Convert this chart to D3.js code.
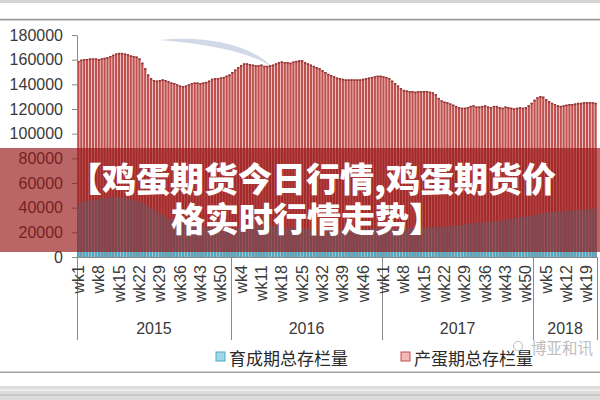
<!DOCTYPE html>
<html><head><meta charset="utf-8">
<script src="https://cdn.jsdelivr.net/npm/d3@7"></script>
<style>
html,body{margin:0;padding:0;background:#fff;}
svg{display:block;}
</style></head>
<body>
<svg id="c" width="600" height="400"></svg>
<script>
// ---------------- data ----------------
const years = [2015, 2016, 2017, 2018];
const weeksPerYear = [53, 52, 52, 22];
const yTicks = [0, 20000, 40000, 60000, 80000, 100000, 120000, 140000, 160000, 180000];
const seriesNames = ["育成期总存栏量", "产蛋期总存栏量"];
const titleLines = ["【鸡蛋期货今日行情,鸡蛋期货价", "格实时行情走势】"];
const watermark = "博亚和讯";

// 产蛋期总存栏量 (red)
const laying = [
  // 2015 (53)
  159000,160000,160500,160500,161000,161000,161000,160500,161000,161500,
  162000,163000,164000,165000,165500,165500,165000,164500,163500,163000,
  162500,161000,157500,153000,148000,145000,143500,143000,143500,144000,
  143500,142500,141500,141000,140000,139000,138500,139000,140000,141000,
  141500,141500,141000,141500,142000,143000,144500,145000,145000,145500,
  146000,147000,148000,
  // 2016 (52)
  150000,152000,154000,155500,157000,157000,156500,156000,155500,155500,
  156000,155000,155000,155500,156000,157000,158000,158500,158000,158000,
  157500,158500,159000,159500,159500,158000,157000,156000,155000,154000,
  153000,151500,150000,148500,147500,146500,145500,145000,144500,144000,
  144000,144000,144000,144000,144000,144500,145000,145500,146000,146500,
  147000,147000,
  // 2017 (52)
  146500,146000,145000,143000,141000,139000,137000,135500,135000,134500,
  134500,134000,134500,134500,134500,134500,134000,133500,132000,129000,
  127000,126000,125500,124500,123500,122500,121500,121000,121000,121500,
  122500,123000,122000,122000,122500,123000,122000,121500,122500,122500,
  121500,121000,122000,121500,121000,120500,121000,121500,121000,121500,
  123000,125000,
  // 2018 (22)
  127500,129500,130500,130000,128000,126500,125000,124000,123000,122500,
  123000,123500,124000,124000,124500,125000,125000,125500,125500,125500,
  125500,125000
];

// 育成期总存栏量 (blue)
const rearing = [
  // 2015
  44000,44500,45000,45500,46000,46000,46500,47000,47500,47500,
  48000,48000,48500,48500,48500,48000,47500,47000,46500,46000,
  45500,45000,44500,43000,41500,40000,38500,37000,35500,34000,
  32500,31000,30000,29000,28000,27500,27000,26500,26000,25500,
  25000,25000,24500,24500,24000,24000,24000,23500,23500,23500,
  23000,23000,23000,
  // 2016
  23000,23000,23500,23500,24000,24000,24500,24500,25000,25000,
  25000,25500,25500,25500,25000,25000,24500,24500,24000,24000,
  24000,23500,23500,23500,23000,23000,23000,22500,22500,22500,
  22000,22000,22000,22000,22000,22000,22000,22500,22500,22500,
  23000,23000,23000,23000,23000,23000,23000,23000,23500,23500,
  23500,23500,
  // 2017
  23500,23500,23500,23500,23500,23500,23500,23500,23500,23500,
  23500,23500,23500,23500,23500,24000,24000,24000,24000,24500,
  24500,24500,25000,25000,25500,25500,26000,26000,26500,27000,
  27500,27500,28000,28000,28000,28500,28500,28500,29000,29000,
  29000,29500,30000,30500,31000,31500,32000,32500,32500,33000,
  33000,33500,
  // 2018
  34000,34500,35000,35500,36000,36000,36500,36500,37000,37000,
  37000,37500,37500,37500,38000,38000,38000,38500,38500,39000,
  39000,39500
];

// categories built from years/weeks
const categories = [];
years.forEach((y, k) => { for (let w = 1; w <= weeksPerYear[k]; w++) categories.push({year: y, week: w}); });

// ---------------- drawing ----------------
const svg = d3.select("#c");
const font = "'Liberation Sans', Arial, sans-serif";
const cjk = "'Noto Sans CJK SC', sans-serif";

// frame
svg.append("rect").attr("x",0).attr("y",0).attr("width",600).attr("height",3).attr("fill","#d4d4d4");
svg.append("rect").attr("x",0).attr("y",18).attr("width",600).attr("height",1).attr("fill","#e2e2e2");
svg.append("rect").attr("x",0).attr("y",19).attr("width",600).attr("height",1.5).attr("fill","#9a9a9a");
svg.append("rect").attr("x",0).attr("y",371.5).attr("width",600).attr("height",1.5).attr("fill","#a0a0a0");
svg.append("rect").attr("x",0).attr("y",386).attr("width",600).attr("height",14).attr("fill","#dcdcdc");
svg.append("rect").attr("x",0).attr("y",389).attr("width",600).attr("height",2).attr("fill","#ececec");
svg.append("rect").attr("x",0).attr("y",394).attr("width",600).attr("height",2).attr("fill","#c8c8c8");

const x = d3.scaleBand().domain(d3.range(categories.length)).range([77, 597]).paddingInner(0.22).paddingOuter(0.1);
const y = d3.scaleLinear().domain([0, 180000]).range([257, 35]);

// faint swoosh watermark at top
svg.append("path")
  .attr("d","M160,40 C205,35 252,45 272,67 C248,51 205,44 160,40 Z")
  .attr("fill","#c9d2e3").attr("opacity",0.85);

// red bars
svg.append("g").selectAll("rect").data(laying).join("rect")
  .attr("x",(d,i)=>x(i)).attr("width",x.bandwidth())
  .attr("y",d=>y(d)).attr("height",d=>y(0)-y(d))
  .attr("fill","#c0504d");
// darker tops
svg.append("g").selectAll("rect").data(laying).join("rect")
  .attr("x",(d,i)=>x(i)).attr("width",x.bandwidth())
  .attr("y",d=>y(d)).attr("height",1.5)
  .attr("fill","#8e3535");
// blue bars
svg.append("g").selectAll("rect").data(rearing).join("rect")
  .attr("x",(d,i)=>x(i)).attr("width",x.bandwidth())
  .attr("y",d=>y(d)).attr("height",d=>y(0)-y(d))
  .attr("fill","#4bacc6");

// y axis
const yAxis = d3.axisLeft(y).tickValues(yTicks).tickFormat(d3.format("d")).tickSize(5).tickSizeOuter(0).tickPadding(9);
const ga = svg.append("g").attr("transform","translate(77,0)").call(yAxis);
ga.select(".domain").attr("stroke","#8a8a8a");
ga.selectAll(".tick line").attr("stroke","#8a8a8a");
ga.selectAll(".tick text").attr("font-family",font).attr("font-size",16).attr("fill","#3a3a3a");

// x axis line & separators
svg.append("line").attr("x1",77).attr("x2",597).attr("y1",257.5).attr("y2",257.5).attr("stroke","#8a8a8a");
const bounds = [0];
weeksPerYear.reduce((a,b)=>{ bounds.push(a+b); return a+b; },0);
const xPos = i => 77 + (597-77) * i / categories.length;
svg.append("g").selectAll("line").data(bounds).join("line")
  .attr("x1",d=>Math.round(xPos(d))+0.5).attr("x2",d=>Math.round(xPos(d))+0.5)
  .attr("y1",257).attr("y2",340).attr("stroke","#8a8a8a");

// week labels
svg.append("g").selectAll("text").data(categories.map((c,i)=>({c,i})).filter(d=>d.i%7===0))
  .join("text")
  .attr("transform",d=>`translate(${x(d.i)+x.bandwidth()/2},265) rotate(-90)`)
  .attr("text-anchor","end").attr("dy","0.35em")
  .attr("font-family",font).attr("font-size",16).attr("fill","#3a3a3a")
  .text(d=>"wk"+d.c.week);

// year labels
svg.append("g").selectAll("text").data(years).join("text")
  .attr("x",(d,k)=>(xPos(bounds[k])+xPos(bounds[k+1]))/2)
  .attr("y",334).attr("text-anchor","middle")
  .attr("font-family",font).attr("font-size",16).attr("fill","#3a3a3a")
  .text(d=>d);

// legend
const legendItems = [
  {name: seriesNames[0], x: 216, fill: "#9fd8ea", stroke: "#4bacc6"},
  {name: seriesNames[1], x: 401, fill: "#f3b9b9", stroke: "#c0504d"}
];
const lg = svg.append("g").selectAll("g").data(legendItems).join("g");
lg.append("rect").attr("x",d=>d.x).attr("y",352).attr("width",9).attr("height",9)
  .attr("fill",d=>d.fill).attr("stroke",d=>d.stroke).attr("stroke-width",1);
lg.append("text").attr("x",d=>d.x+13).attr("y",357).attr("dominant-baseline","central")
  .attr("font-family",cjk).attr("font-size",17).attr("fill","#2a2a2a").text(d=>d.name);

// watermark
svg.append("circle").attr("cx",518).attr("cy",346).attr("r",4.5).attr("fill","none").attr("stroke","#c4c4c4").attr("stroke-width",1.2);
svg.append("text").attr("x",531).attr("y",347).attr("dominant-baseline","central")
  .attr("font-family",cjk).attr("font-size",15.5).attr("fill","#b8b8b8").attr("opacity",0.9).text(watermark);

// banner overlay
svg.append("rect").attr("x",0).attr("y",148).attr("width",600).attr("height",104)
  .attr("fill","rgb(150,20,20)").attr("opacity",0.65);
const title = svg.append("text")
  .attr("text-anchor","middle")
  .attr("font-family",cjk).attr("font-weight",900).attr("font-size",34).attr("fill","#fff");
title.selectAll("tspan").data(titleLines).join("tspan")
  .attr("x",(d,i)=> i===0 ? 312 : 307)
  .attr("y",(d,i)=> 192 + i*40)
  .text(d=>d);
</script>
</body></html>
